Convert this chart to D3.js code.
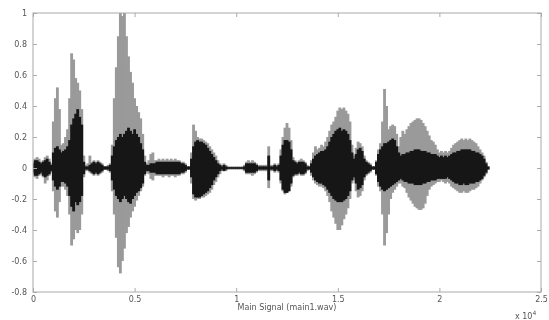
<!DOCTYPE html>
<html>
<head>
<meta charset="utf-8">
<script src="https://d3js.org/d3.v7.min.js"></script>
<style>
    body { margin: 0; background: #fff; }
    svg { display: block; }
    text { font-family: "DejaVu Sans", sans-serif; fill: #555; }
</style>
</head>
<body>
<svg width="549" height="320"></svg>
<script>
// envelope readings, one every 0.01 (x 10^4 samples)
var sampleStep = 0.01;

var outerTop = [
    0.04, 0.06, 0.07, 0.06, 0.04, 0.05, 0.07, 0.08, 0.06, 0.03,
    0.30, 0.45, 0.52, 0.38, 0.15, 0.16, 0.20, 0.25, 0.45, 0.74,
    0.70, 0.58, 0.55, 0.50, 0.38, 0.08, 0.02, 0.03, 0.08, 0.04,
    0.05, 0.04, 0.05, 0.04, 0.03, 0.01, 0.01, 0.02, 0.03, 0.15,
    0.45, 0.65, 0.85, 1.00, 0.98, 1.00, 0.85, 0.72, 0.62, 0.55,
    0.45, 0.40, 0.36, 0.32, 0.22, 0.08, 0.03, 0.05, 0.09, 0.10,
    0.05, 0.05, 0.06, 0.05, 0.06, 0.05, 0.06, 0.05, 0.06, 0.05,
    0.06, 0.05, 0.05, 0.04, 0.04, 0.03, 0.01, 0.01, 0.10, 0.28,
    0.24, 0.20, 0.19, 0.19, 0.18, 0.17, 0.16, 0.14, 0.12, 0.10,
    0.08, 0.05, 0.03, 0.02, 0.03, 0.02, 0.01, 0.01, 0.01, 0.01,
    0.01, 0.01, 0.01, 0.01, 0.02, 0.04, 0.05, 0.04, 0.05, 0.04,
    0.03, 0.02, 0.02, 0.02, 0.02, 0.02, 0.14, 0.02, 0.02, 0.03,
    0.02, 0.03, 0.12, 0.20, 0.26, 0.29, 0.26, 0.18, 0.07, 0.05,
    0.04, 0.05, 0.06, 0.05, 0.04, 0.02, 0.01, 0.05, 0.10, 0.14,
    0.12, 0.13, 0.15, 0.14, 0.17, 0.20, 0.24, 0.28, 0.30, 0.33,
    0.37, 0.39, 0.38, 0.39, 0.37, 0.35, 0.30, 0.15, 0.08, 0.13,
    0.17, 0.16, 0.14, 0.08, 0.05, 0.04, 0.03, 0.01, 0.01, 0.05,
    0.12, 0.16, 0.30, 0.51, 0.40, 0.25, 0.27, 0.28, 0.27, 0.22,
    0.14, 0.20, 0.24, 0.22, 0.25, 0.27, 0.29, 0.30, 0.31, 0.32,
    0.32, 0.31, 0.29, 0.27, 0.24, 0.21, 0.18, 0.17, 0.15, 0.12,
    0.10, 0.11, 0.10, 0.11, 0.10, 0.11, 0.13, 0.15, 0.16, 0.17,
    0.18, 0.19, 0.18, 0.19, 0.18, 0.19, 0.18, 0.17, 0.16, 0.14,
    0.12, 0.10, 0.08, 0.04, 0.01
];

var outerBottom = [
    -0.04, -0.06, -0.07, -0.05, -0.04, -0.06, -0.10, -0.08, -0.05, -0.03,
    -0.15, -0.28, -0.32, -0.22, -0.12, -0.12, -0.14, -0.18, -0.30, -0.50,
    -0.46, -0.40, -0.42, -0.40, -0.30, -0.06, -0.02, -0.02, -0.03, -0.04,
    -0.05, -0.04, -0.05, -0.04, -0.03, -0.01, -0.01, -0.02, -0.03, -0.15,
    -0.30, -0.45, -0.64, -0.68, -0.60, -0.52, -0.42, -0.38, -0.32, -0.28,
    -0.25, -0.21, -0.18, -0.15, -0.12, -0.05, -0.03, -0.04, -0.07, -0.08,
    -0.05, -0.05, -0.05, -0.05, -0.06, -0.05, -0.05, -0.06, -0.05, -0.05,
    -0.06, -0.05, -0.05, -0.04, -0.04, -0.03, -0.01, -0.01, -0.10, -0.20,
    -0.21, -0.20, -0.20, -0.19, -0.19, -0.18, -0.17, -0.16, -0.14, -0.11,
    -0.09, -0.06, -0.04, -0.02, -0.02, -0.02, -0.01, -0.01, -0.01, -0.01,
    -0.01, -0.01, -0.01, -0.01, -0.02, -0.04, -0.04, -0.04, -0.05, -0.04,
    -0.03, -0.02, -0.02, -0.02, -0.02, -0.02, -0.13, -0.02, -0.02, -0.03,
    -0.02, -0.03, -0.10, -0.15, -0.17, -0.16, -0.15, -0.12, -0.06, -0.05,
    -0.05, -0.04, -0.05, -0.05, -0.04, -0.02, -0.01, -0.05, -0.08, -0.10,
    -0.11, -0.12, -0.12, -0.13, -0.15, -0.18, -0.22, -0.28, -0.32, -0.36,
    -0.40, -0.40, -0.37, -0.33, -0.30, -0.26, -0.20, -0.10, -0.08, -0.15,
    -0.19, -0.18, -0.15, -0.08, -0.05, -0.04, -0.03, -0.01, -0.01, -0.05,
    -0.12, -0.15, -0.30, -0.50, -0.42, -0.30, -0.20, -0.16, -0.14, -0.12,
    -0.10, -0.10, -0.12, -0.13, -0.16, -0.19, -0.21, -0.23, -0.25, -0.26,
    -0.27, -0.27, -0.26, -0.23, -0.18, -0.14, -0.12, -0.11, -0.10, -0.09,
    -0.09, -0.08, -0.09, -0.10, -0.09, -0.10, -0.12, -0.13, -0.14, -0.15,
    -0.16, -0.16, -0.15, -0.16, -0.16, -0.15, -0.14, -0.14, -0.13, -0.12,
    -0.10, -0.08, -0.06, -0.04, -0.01
];

var innerTop = [
    0.03, 0.05, 0.05, 0.04, 0.03, 0.04, 0.05, 0.06, 0.04, 0.02,
    0.10, 0.13, 0.14, 0.12, 0.10, 0.11, 0.12, 0.14, 0.18, 0.28,
    0.32, 0.35, 0.38, 0.33, 0.28, 0.04, 0.01, 0.01, 0.02, 0.03,
    0.04, 0.03, 0.04, 0.03, 0.02, 0.01, 0.01, 0.01, 0.02, 0.08,
    0.14, 0.18, 0.20, 0.22, 0.20, 0.22, 0.24, 0.26, 0.24, 0.22,
    0.25, 0.22, 0.20, 0.16, 0.12, 0.04, 0.02, 0.02, 0.03, 0.03,
    0.03, 0.04, 0.04, 0.04, 0.04, 0.04, 0.04, 0.04, 0.04, 0.04,
    0.04, 0.04, 0.04, 0.03, 0.03, 0.02, 0.01, 0.01, 0.06, 0.14,
    0.17, 0.18, 0.17, 0.17, 0.16, 0.15, 0.13, 0.11, 0.09, 0.07,
    0.05, 0.03, 0.02, 0.01, 0.02, 0.01, 0.005, 0.005, 0.005, 0.005,
    0.005, 0.005, 0.005, 0.005, 0.01, 0.03, 0.03, 0.03, 0.03, 0.03,
    0.02, 0.01, 0.01, 0.01, 0.01, 0.01, 0.08, 0.01, 0.01, 0.02,
    0.01, 0.02, 0.08, 0.15, 0.18, 0.18, 0.17, 0.12, 0.05, 0.04,
    0.03, 0.04, 0.04, 0.04, 0.03, 0.01, 0.01, 0.03, 0.06, 0.08,
    0.09, 0.10, 0.11, 0.11, 0.12, 0.14, 0.17, 0.20, 0.22, 0.24,
    0.25, 0.26, 0.24, 0.25, 0.24, 0.22, 0.18, 0.10, 0.06, 0.09,
    0.12, 0.13, 0.11, 0.06, 0.04, 0.03, 0.02, 0.01, 0.01, 0.04,
    0.09, 0.12, 0.14, 0.16, 0.16, 0.17, 0.18, 0.19, 0.18, 0.14,
    0.10, 0.08, 0.09, 0.09, 0.10, 0.10, 0.11, 0.11, 0.12, 0.12,
    0.12, 0.11, 0.11, 0.11, 0.10, 0.10, 0.09, 0.09, 0.09, 0.08,
    0.07, 0.08, 0.07, 0.08, 0.07, 0.08, 0.09, 0.10, 0.10, 0.11,
    0.11, 0.12, 0.12, 0.12, 0.12, 0.12, 0.11, 0.11, 0.10, 0.10,
    0.09, 0.08, 0.06, 0.03, 0.01
];

var innerBottom = [
    -0.03, -0.05, -0.05, -0.04, -0.03, -0.05, -0.06, -0.05, -0.04, -0.02,
    -0.08, -0.12, -0.14, -0.12, -0.09, -0.09, -0.10, -0.12, -0.18, -0.25,
    -0.28, -0.22, -0.24, -0.22, -0.18, -0.04, -0.01, -0.01, -0.02, -0.03,
    -0.04, -0.03, -0.04, -0.03, -0.02, -0.01, -0.01, -0.01, -0.02, -0.08,
    -0.14, -0.18, -0.20, -0.22, -0.20, -0.18, -0.20, -0.22, -0.23, -0.20,
    -0.18, -0.16, -0.15, -0.13, -0.10, -0.04, -0.02, -0.02, -0.03, -0.03,
    -0.03, -0.04, -0.04, -0.04, -0.04, -0.04, -0.04, -0.04, -0.04, -0.04,
    -0.04, -0.04, -0.04, -0.03, -0.03, -0.02, -0.01, -0.01, -0.06, -0.17,
    -0.19, -0.19, -0.19, -0.18, -0.17, -0.16, -0.15, -0.13, -0.11, -0.08,
    -0.06, -0.04, -0.02, -0.01, -0.02, -0.01, -0.005, -0.005, -0.005, -0.005,
    -0.005, -0.005, -0.005, -0.005, -0.01, -0.03, -0.03, -0.03, -0.03, -0.03,
    -0.02, -0.01, -0.01, -0.01, -0.01, -0.01, -0.08, -0.01, -0.01, -0.02,
    -0.01, -0.02, -0.08, -0.14, -0.16, -0.16, -0.15, -0.10, -0.05, -0.04,
    -0.04, -0.03, -0.04, -0.04, -0.03, -0.01, -0.01, -0.03, -0.06, -0.08,
    -0.09, -0.10, -0.10, -0.11, -0.12, -0.14, -0.16, -0.18, -0.20, -0.21,
    -0.22, -0.22, -0.22, -0.21, -0.20, -0.18, -0.15, -0.08, -0.06, -0.10,
    -0.14, -0.13, -0.11, -0.06, -0.04, -0.03, -0.02, -0.01, -0.01, -0.04,
    -0.09, -0.12, -0.14, -0.15, -0.14, -0.13, -0.12, -0.11, -0.10, -0.09,
    -0.08, -0.07, -0.08, -0.09, -0.09, -0.10, -0.10, -0.10, -0.11, -0.11,
    -0.11, -0.11, -0.10, -0.10, -0.09, -0.09, -0.08, -0.08, -0.08, -0.07,
    -0.07, -0.07, -0.07, -0.07, -0.06, -0.07, -0.08, -0.09, -0.10, -0.10,
    -0.11, -0.11, -0.10, -0.11, -0.11, -0.10, -0.10, -0.10, -0.09, -0.09,
    -0.08, -0.07, -0.05, -0.03, -0.01
];

var xTicks = [0, 0.5, 1, 1.5, 2, 2.5];
var yTicks = [1, 0.8, 0.6, 0.4, 0.2, 0, -0.2, -0.4, -0.6, -0.8];
var xLabel = "Main Signal (main1.wav)";

var svg = d3.select("svg"),
    margin = {top: 13, right: 8, bottom: 28, left: 33},
    width = 549 - margin.left - margin.right,
    height = 320 - margin.top - margin.bottom;

var defs = svg.append("defs");
defs.append("filter").attr("id", "soft")
    .append("feGaussianBlur").attr("stdDeviation", 0.45);
defs.append("clipPath").attr("id", "plotclip")
    .append("rect").attr("width", width).attr("height", height);

var g = svg.append("g")
    .attr("transform", "translate(" + margin.left + "," + margin.top + ")")
    .attr("filter", "url(#soft)");

var x = d3.scaleLinear().domain([0, 2.5]).range([0, width]);
var y = d3.scaleLinear().domain([-0.8, 1]).range([height, 0]);

var samples = outerTop.map(function (d, i) {
    return {
        t: i * sampleStep,
        top: d,
        bottom: outerBottom[i],
        coreTop: innerTop[i],
        coreBottom: innerBottom[i]
    };
});
var barW = x(sampleStep) - x(0) + 0.8;

var wave = g.append("g").attr("clip-path", "url(#plotclip)");

// zero line under the signal
wave.append("line")
    .attr("x1", x(0))
    .attr("x2", x(samples[samples.length - 1].t))
    .attr("y1", y(0))
    .attr("y2", y(0))
    .attr("stroke", "#333")
    .attr("stroke-width", 1);

wave.selectAll(".outer")
    .data(samples)
    .enter().append("rect")
    .attr("class", "outer")
    .attr("x", function (d) { return x(d.t) - barW / 2; })
    .attr("width", barW)
    .attr("y", function (d) { return y(d.top); })
    .attr("height", function (d) { return y(d.bottom) - y(d.top); })
    .attr("fill", "#9a9a9a");

wave.selectAll(".inner")
    .data(samples)
    .enter().append("rect")
    .attr("class", "inner")
    .attr("x", function (d) { return x(d.t) - barW / 2; })
    .attr("width", barW)
    .attr("y", function (d) { return y(d.coreTop); })
    .attr("height", function (d) { return y(d.coreBottom) - y(d.coreTop); })
    .attr("fill", "#151515");

// axes, MATLAB style: box with inward ticks on all sides
function styleAxis(sel) {
    sel.select(".domain").remove();
    sel.selectAll("line").attr("stroke", "#aaa");
    sel.selectAll("text").attr("font-size", 8).attr("fill", "#555")
        .style("font-family", "DejaVu Sans, sans-serif");
}

g.append("g")
    .attr("transform", "translate(0," + height + ")")
    .call(d3.axisBottom(x).tickValues(xTicks).tickSizeInner(-4).tickSizeOuter(0)
        .tickPadding(4).tickFormat(function (d) { return String(d); }))
    .call(styleAxis);

g.append("g")
    .call(d3.axisTop(x).tickValues(xTicks).tickSizeInner(-4).tickSizeOuter(0)
        .tickFormat(""))
    .call(styleAxis);

g.append("g")
    .call(d3.axisLeft(y).tickValues(yTicks).tickSizeInner(-4).tickSizeOuter(0)
        .tickPadding(6).tickFormat(function (d) { return String(d); }))
    .call(styleAxis);

g.append("g")
    .attr("transform", "translate(" + width + ",0)")
    .call(d3.axisRight(y).tickValues(yTicks).tickSizeInner(-4).tickSizeOuter(0)
        .tickFormat(""))
    .call(styleAxis);

g.append("rect")
    .attr("width", width)
    .attr("height", height)
    .attr("fill", "none")
    .attr("stroke", "#aaa")
    .attr("stroke-width", 1);

g.append("text")
    .attr("x", width / 2)
    .attr("y", height + 18)
    .attr("text-anchor", "middle")
    .attr("font-size", 8)
    .text(xLabel);

// exponent note under the right end of the x axis
var expo = g.append("text")
    .attr("x", width - 26)
    .attr("y", height + 27)
    .attr("font-size", 8);
expo.append("tspan").text("x 10");
expo.append("tspan").attr("dy", -4).attr("font-size", 6).text("4");
</script>
</body>
</html>
